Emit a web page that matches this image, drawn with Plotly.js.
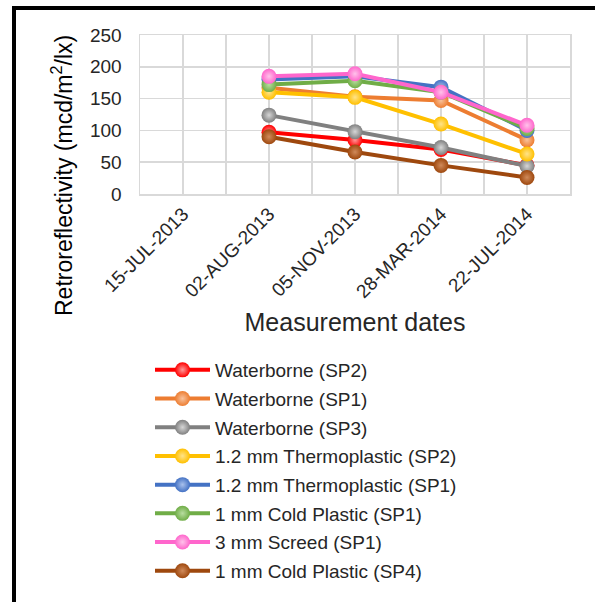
<!DOCTYPE html>
<html>
<head>
<meta charset="utf-8">
<script src="https://cdn.plot.ly/plotly-3.0.1.min.js"></script>
<style>html,body{margin:0;padding:0;background:#fff;}#chart{width:595px;height:602px;}</style>
</head>
<body>
<div id="chart"></div>
<script>
// ---- data ----
const dates = ["15-JUL-2013", "02-AUG-2013", "05-NOV-2013", "28-MAR-2014", "22-JUL-2014"];
const seriesNames = [
  "Waterborne (SP2)", "Waterborne (SP1)", "Waterborne (SP3)",
  "1.2 mm Thermoplastic (SP2)", "1.2 mm Thermoplastic (SP1)",
  "1 mm Cold Plastic (SP1)", "3 mm Screed (SP1)", "1 mm Cold Plastic (SP4)"
];
const waterborneSP2   = [null, 97, 85, 70, 45];
const waterborneSP1   = [null, 167, 153, 147, 85];
const waterborneSP3   = [null, 124, 98, 73, 44];
const thermo12SP2     = [null, 160, 152, 110, 63];
const thermo12SP1     = [null, 180, 185, 168, 100];
const coldPlastic1SP1 = [null, 172, 178, 160, 103];
const screed3SP1      = [null, 185, 189, 160, 108];
const coldPlastic1SP4 = [null, 90, 66, 45, 26];
const yTicks = [0, 50, 100, 150, 200, 250];

// ---- styles ----
const seriesValues = [waterborneSP2, waterborneSP1, waterborneSP3, thermo12SP2, thermo12SP1, coldPlastic1SP1, screed3SP1, coldPlastic1SP4];
const colors = ["#FF0000", "#ED7D31", "#808080", "#FFC000", "#4472C4", "#70AD47", "#FF66CC", "#9E480E"];
const highlight = ["#FF9A9A", "#F8C29C", "#D6D6D6", "#FFE38A", "#A9C1EC", "#B8DDA0", "#FFC2EA", "#D08A5A"];
const GRID = "#d9d9d9";

// category positions on the axis (index of each date)
const catIndex = dates.map((d, i) => i);

const traces = seriesValues.map((vals, i) => ({
  type: "scatter",
  mode: "lines+markers",
  name: seriesNames[i],
  x: catIndex,
  y: vals,
  text: dates,
  legendgroup: "g" + i,
  line: {color: colors[i], width: 4},
  marker: {size: 15, color: colors[i], gradient: {type: "radial", color: highlight[i]}, line: {width: 0}},
  connectgaps: false,
  hovertemplate: "%{text}: %{y}<extra>%{fullData.name}</extra>"
}));

const W = 595, H = 602;
const M = {l: 140, r: 25, t: 35, b: 408, autoexpand: false};
const pw = W - M.l - M.r, ph = H - M.t - M.b;
const px = x => (x - M.l) / pw;
const py = y => (H - M.b - y) / ph;

// gridlines through each date (placed on the x axis scale at each category)
const centreGrid = catIndex.map(v => ({
  type: "line", xref: "x", yref: "paper", x0: v, x1: v, y0: 0, y1: 1,
  layer: "below", line: {color: GRID, width: 1.5}
}));

const layout = {
  width: W, height: H,
  margin: M,
  paper_bgcolor: "#ffffff",
  plot_bgcolor: "#ffffff",
  font: {family: "Liberation Sans, Arial, sans-serif", color: "#262626"},
  showlegend: true,
  xaxis: {
    type: "linear",
    range: [-0.5, dates.length - 0.5],
    tickmode: "array",
    tickvals: catIndex,
    ticktext: dates,
    showgrid: true, gridcolor: GRID, gridwidth: 1.5,
    minor: {tick0: 0.5, dtick: 1, showgrid: true, gridcolor: GRID, gridwidth: 1.5, ticks: ""},
    showline: true, linecolor: GRID, linewidth: 1.5, mirror: true,
    ticks: "",
    tickangle: -45,
    tickfont: {size: 19, color: "#262626"},
    zeroline: false,
    automargin: false,
    title: {text: "Measurement dates", font: {size: 25, color: "#262626"}, standoff: 12}
  },
  yaxis: {
    range: [0, 250],
    tickvals: yTicks,
    showgrid: true, gridcolor: GRID, gridwidth: 1.5,
    showline: true, linecolor: GRID, linewidth: 1.5, mirror: true,
    zeroline: false,
    ticks: "outside", ticklen: 13, tickcolor: "rgba(0,0,0,0)",
    tickfont: {size: 19, color: "#262626"},
    automargin: false
  },
  legend: {
    xref: "container", yref: "container",
    x: 150 / W, y: 1 - 351 / H,
    xanchor: "left", yanchor: "top",
    orientation: "v",
    font: {size: 19, color: "#262626"},
    itemwidth: 55,
    traceorder: "grouped",
    tracegroupgap: 1,
    bgcolor: "rgba(0,0,0,0)"
  },
  annotations: [{
    text: "Retroreflectivity (mcd/m<sup>2</sup>/lx)",
    xref: "paper", yref: "paper",
    x: px(62), y: py(176),
    xanchor: "center", yanchor: "middle",
    textangle: -90,
    showarrow: false,
    font: {size: 23, color: "#000000"}
  }],
  shapes: centreGrid.concat([
    {type: "line", xref: "paper", yref: "paper", x0: px(14), x1: px(14), y0: py(7), y1: py(602), line: {color: "#000", width: 4}},
    {type: "line", xref: "paper", yref: "paper", x0: px(12), x1: px(595), y0: py(8), y1: py(8), line: {color: "#000", width: 4}}
  ])
};

Plotly.newPlot("chart", traces, layout, {displayModeBar: false, staticPlot: true});
</script>
</body>
</html>
